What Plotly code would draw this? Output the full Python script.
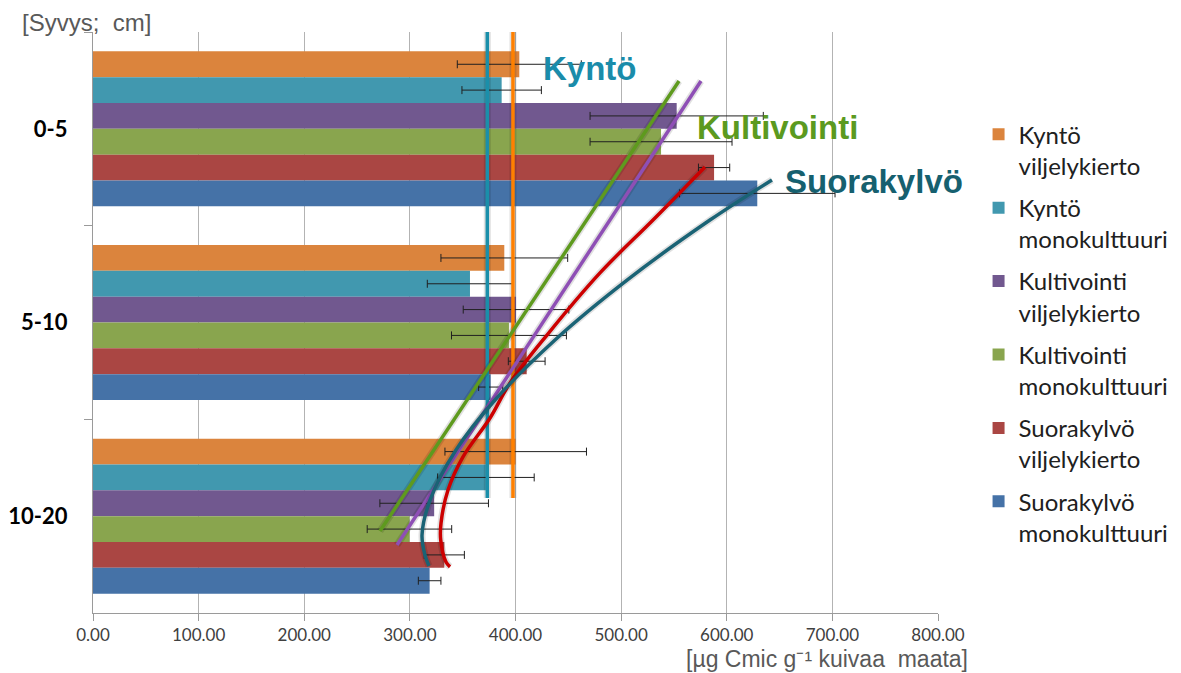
import plotly.graph_objects as go

# ---------------- data ----------------
depths = ["0-5", "5-10", "10-20"]

series_names = [
    "Kyntö<br>viljelykierto",
    "Kyntö<br>monokulttuuri",
    "Kultivointi<br>viljelykierto",
    "Kultivointi<br>monokulttuuri",
    "Suorakylvö<br>viljelykierto",
    "Suorakylvö<br>monokulttuuri",
]
series_colors = ["#DB843D", "#4198AF", "#71588F", "#89A54E", "#AA4643", "#4572A7"]

kynto_vk = [403.6, 389.4, 400.2]
kynto_mk = [386.9, 356.9, 372.0]
kult_vk = [552.6, 400.5, 323.0]
kult_mk = [537.8, 393.8, 299.6]
suora_vk = [588.0, 410.6, 332.6]
suora_mk = [628.9, 376.5, 318.7]

err_kynto_vk = [58.7, 60.0, 67.0]
err_kynto_mk = [37.6, 40.4, 45.7]
err_kult_vk = [82.0, 50.0, 51.4]
err_kult_mk = [67.2, 54.4, 40.0]
err_suora_vk = [14.8, 17.4, 19.0]
err_suora_mk = [73.6, 11.4, 10.7]

values = [kynto_vk, kynto_mk, kult_vk, kult_mk, suora_vk, suora_mk]
errors = [err_kynto_vk, err_kynto_mk, err_kult_vk, err_kult_mk, err_suora_vk, err_suora_mk]

x_ticks = [0, 100, 200, 300, 400, 500, 600, 700, 800]

# hand-drawn trend lines: x = µg value, y = position on depth axis (category index units)
kynto_mk_line_x = [373.3, 373.3]
kynto_mk_line_y = [-0.52, 1.906]
kynto_vk_line_x = [397.6, 397.6]
kynto_vk_line_y = [-0.52, 1.906]
kult_mk_line_x = [554.8, 271.7]
kult_mk_line_y = [-0.247, 2.077]
kult_vk_line_x = [575.6, 287.8]
kult_vk_line_y = [-0.247, 2.149]
suora_vk_line_x = [579.4, 530.2, 480.0, 429.8, 394.8, 375.9, 350.3, 336.1, 329.5, 329.2, 334.2, 338.0]
suora_vk_line_y = [0.197, 0.471, 0.744, 1.065, 1.312, 1.493, 1.694, 1.865, 2.035, 2.123, 2.237, 2.262]
suora_mk_line_x = [642.8, 584.1, 505.6, 437.4, 380.6, 343.7, 319.1, 311.5, 314.3, 318.1]
suora_mk_line_y = [0.264, 0.471, 0.781, 1.090, 1.400, 1.658, 1.917, 2.097, 2.201, 2.257]

trend_lines = [
    (kynto_mk_line_x, kynto_mk_line_y, "#1A8FAA"),
    (kynto_vk_line_x, kynto_vk_line_y, "#FF8000"),
    (kult_mk_line_x, kult_mk_line_y, "#5E9A1E"),
    (kult_vk_line_x, kult_vk_line_y, "#8E4FB5"),
    (suora_vk_line_x, suora_vk_line_y, "#CC0000"),
    (suora_mk_line_x, suora_mk_line_y, "#1A6375"),
]

labels = [
    ("Kyntö", 470.5, -0.314, "#1A8CAA"),
    ("Kultivointi", 648.5, -0.009, "#5B9A1F"),
    ("Suorakylvö", 739.4, 0.2745, "#16606F"),
]

# ---------------- figure ----------------
fig = go.Figure()

for i, (name, vals, errs, col) in enumerate(zip(series_names, values, errors, series_colors)):
    fig.add_trace(go.Bar(
        y=depths, x=vals, name=name, orientation="h",
        marker=dict(color=col, line=dict(width=0)),
        error_x=dict(type="data", array=errs, visible=True, color="#202020",
                     thickness=1, width=4),
        legendgroup=f"g{i}",
    ))

for lx, ly, col in trend_lines:
    fig.add_trace(go.Scatter(
        x=lx, y=ly, yaxis="y2", mode="lines", showlegend=False,
        line=dict(color="rgba(0,0,0,0.12)", width=7, shape="spline", smoothing=1.0),
        hoverinfo="skip",
    ))
    fig.add_trace(go.Scatter(
        x=lx, y=ly, yaxis="y2", mode="lines", showlegend=False,
        line=dict(color=col, width=3.5, shape="spline", smoothing=1.0),
    ))

for text, lx, ly, col in labels:
    fig.add_annotation(
        x=lx, y=ly, xref="x", yref="y2", text=f"<b>{text}</b>", showarrow=False,
        font=dict(family="Liberation Sans, Arial", size=33, color=col),
        xanchor="center", yanchor="middle",
    )

fig.add_annotation(
    x=-0.0864, y=1.017, xref="paper", yref="paper", xanchor="left", yanchor="middle",
    text="[Syvys;\u00a0 cm]", showarrow=False,
    font=dict(family="Liberation Sans, Arial", size=24, color="#595959"),
)
fig.add_annotation(
    x=1.038, y=-0.079, xref="paper", yref="paper", xanchor="right", yanchor="middle",
    text="[µg Cmic g\u207b\u00b9 kuivaa\u00a0 maata]", showarrow=False,
    font=dict(family="Liberation Sans, Arial", size=23, color="#595959"),
)

fig.update_layout(
    width=1181, height=673,
    margin=dict(l=93, r=243, t=32, b=60, autoexpand=False),
    paper_bgcolor="white", plot_bgcolor="white",
    barmode="group", bargap=0.2, bargroupgap=0,
    font=dict(family="Lato", color="#404040"),
    showlegend=True,
    legend=dict(
        x=1.048, y=0.862, xanchor="left", yanchor="top",
        font=dict(family="Lato", size=24, color="#202020"),
        valign="top", tracegroupgap=8, traceorder="grouped",
        bgcolor="rgba(0,0,0,0)",
    ),
    xaxis=dict(
        range=[0, 800], tickvals=x_ticks, tickformat=".2f",
        showgrid=True, gridcolor="#B3B3B3", gridwidth=1,
        showline=True, linecolor="#9A9A9A", linewidth=1,
        ticks="outside", ticklen=7, tickcolor="#9A9A9A",
        tickfont=dict(family="Lato", size=17, color="#404040"),
        ticklabelstandoff=0, zeroline=False,
    ),
    yaxis=dict(
        type="category", categoryorder="array", categoryarray=depths,
        range=[2.5, -0.5],
        showline=True, linecolor="#9A9A9A", linewidth=1,
        ticks="outside", ticklen=8, tickcolor="#9A9A9A", tickson="boundaries",
        showgrid=False,
        tickfont=dict(family="Lato", size=22, color="#000000", weight="bold"),
        ticklabelstandoff=20,
    ),
    yaxis2=dict(
        overlaying="y", range=[2.5, -0.5], visible=False, showgrid=False,
    ),
)

fig.write_html("out.html", post_script="document.body.style.margin='0';",
               config={"displayModeBar": False})
